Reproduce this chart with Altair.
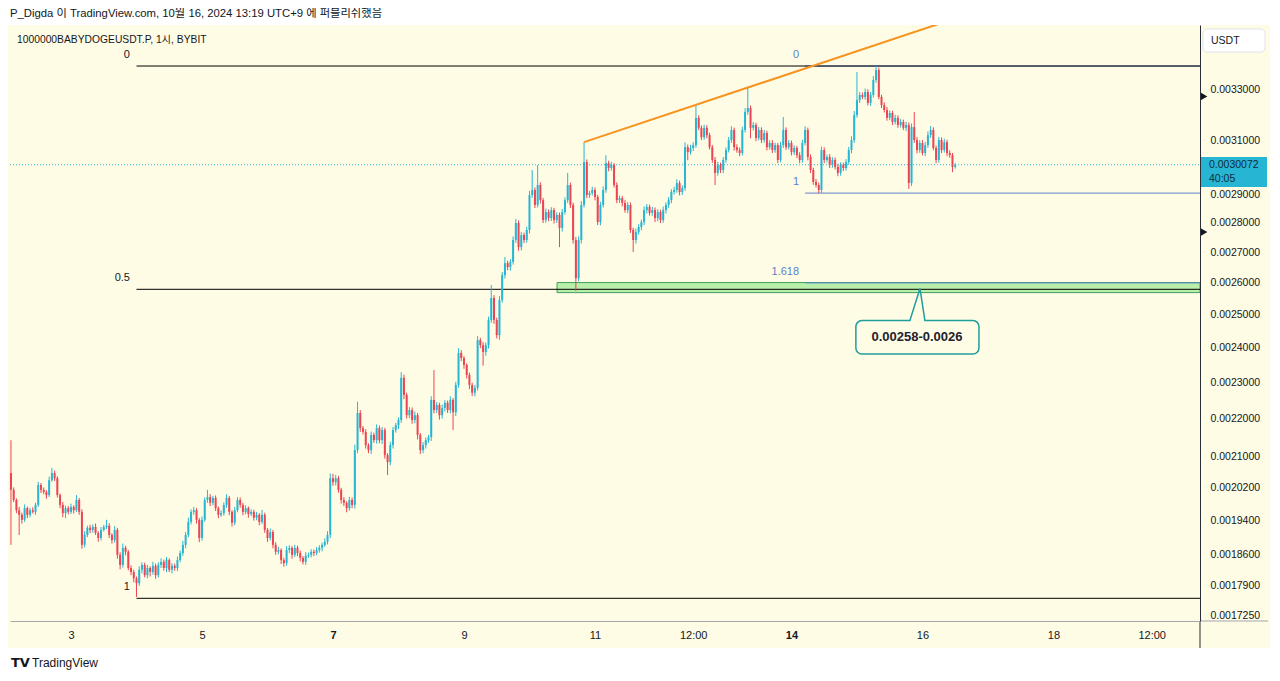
import altair as alt
import pandas as pd

# ---------------- data (prices in units of 1e-6 USDT) ----------------
UNIT = 1e-6
FIRST_HOUR = -22          # first candle: Oct 2 02:00 (hours relative to Oct 3 00:00)
FIRST_OPEN = 2057

CLOSE = [
    2015, 1990, 1965, 1954, 1942, 1970, 1954, 1965, 1961, 1978,
    2027, 2015, 2010, 2002, 2039, 2057, 2044, 2002, 1978, 1958,
    1970, 1961, 1973, 1965, 1990, 1961, 1883, 1906, 1923, 1918,
    1925, 1911, 1899, 1918, 1925, 1928, 1906, 1894, 1918, 1860,
    1837, 1876, 1867, 1830, 1821, 1807, 1796, 1826, 1837, 1814,
    1830, 1821, 1835, 1814, 1837, 1844, 1830, 1848, 1826, 1835,
    1830, 1848, 1864, 1883, 1906, 1937, 1961, 1965, 1942, 1899,
    1942, 1990, 1997, 1983, 1995, 1970, 1954, 1958, 1978, 1995,
    1961, 1935, 1965, 1990, 1978, 1961, 1970, 1956, 1961, 1947,
    1954, 1937, 1954, 1918, 1899, 1913, 1883, 1867, 1871, 1848,
    1841, 1871, 1876, 1860, 1876, 1864, 1853, 1844, 1858, 1860,
    1867, 1864, 1871, 1876, 1883, 1890, 1906, 2044, 2034, 2044,
    2015, 1990, 1983, 1970, 1990, 1978, 2116, 2215, 2174, 2164,
    2129, 2116, 2156, 2142, 2174, 2142, 2169, 2103, 2085, 2129,
    2169, 2182, 2196, 2313, 2265, 2209, 2223, 2196, 2209, 2156,
    2116, 2129, 2142, 2150, 2251, 2223, 2237, 2209, 2229, 2243,
    2223, 2251, 2217, 2293, 2385, 2370, 2350, 2321, 2293, 2271,
    2285, 2423, 2408, 2388, 2408, 2484, 2552, 2484, 2438, 2546,
    2625, 2664, 2651, 2668, 2741, 2799, 2717, 2758, 2741, 2775,
    2897, 2915, 2862, 2933, 2879, 2809, 2837, 2816, 2844, 2809,
    2827, 2782, 2837, 2879, 2933, 2862, 2741, 2615, 2741, 2862,
    3017, 2897, 2904, 2915, 2890, 2802, 2862, 2915, 3013, 2995,
    3006, 2933, 2879, 2886, 2869, 2844, 2862, 2775, 2741, 2768,
    2785, 2802, 2844, 2855, 2834, 2844, 2816, 2837, 2809, 2844,
    2862, 2879, 2908, 2915, 2940, 2908, 2922, 3073, 3054, 3070,
    3081, 3186, 3147, 3111, 3147, 3119, 3073, 3025, 2977, 3006,
    2988, 3025, 3062, 3100, 3139, 3073, 3062, 3051, 3139, 3209,
    3225, 3147, 3158, 3108, 3139, 3100, 3127, 3073, 3089, 3062,
    3081, 3025, 3081, 3139, 3073, 3089, 3054, 3070, 3043, 3025,
    3089, 3139, 3036, 2988, 2944, 2933, 2915, 3062, 3025, 3036,
    3006, 3025, 2999, 2977, 3006, 2995, 3017, 3062, 3100, 3197,
    3257, 3277, 3269, 3289, 3245, 3277, 3338, 3379, 3269, 3237,
    3217, 3186, 3205, 3170, 3186, 3158, 3170, 3147, 3158, 2940,
    3150, 3100, 3062, 3089, 3051, 3081, 3119, 3139, 3070, 3025,
    3100, 3062, 3092, 3051, 3043, 2999, 3007,
]

UPPER_WICK = [
    85, 6, 4, 8, 5, 9, 4, 6, 7, 5,
    8, 5, 6, 4, 9, 13, 6, 5, 4, 7,
    6, 5, 8, 4, 12, 5, 6, 9, 5, 7,
    6, 8, 4, 7, 5, 14, 6, 4, 9, 5,
    6, 10, 5, 4, 6, 5, 4, 8, 6, 5,
    7, 4, 9, 5, 6, 8, 5, 7, 4, 6,
    5, 8, 6, 9, 7, 10, 6, 8, 5, 4,
    8, 6, 18, 7, 5, 6, 4, 7, 6, 9,
    5, 4, 8, 7, 6, 5, 7, 4, 6, 5,
    7, 4, 12, 5, 4, 8, 5, 6, 7, 4,
    5, 9, 6, 4, 7, 5, 6, 4, 8, 5,
    6, 5, 7, 6, 5, 8, 9, 12, 11, 8,
    6, 5, 7, 4, 8, 6, 14, 31, 8, 6,
    7, 5, 9, 6, 10, 7, 8, 6, 5, 9,
    8, 6, 7, 16, 9, 6, 8, 7, 10, 6,
    5, 8, 7, 6, 10, 84, 8, 6, 9, 7,
    6, 10, 5, 9, 14, 8, 6, 5, 7, 6,
    8, 12, 7, 9, 8, 10, 41, 9, 7, 12,
    10, 20, 8, 9, 12, 14, 9, 10, 8, 11,
    15, 73, 9, 73, 10, 8, 12, 9, 10, 8,
    9, 8, 11, 10, 44, 9, 8, 10, 12, 14,
    75, 10, 8, 12, 9, 8, 11, 13, 30, 9,
    12, 8, 10, 9, 8, 11, 10, 9, 8, 12,
    10, 9, 13, 10, 8, 11, 9, 10, 8, 12,
    9, 11, 10, 12, 14, 9, 10, 18, 10, 12,
    11, 51, 10, 9, 12, 10, 9, 8, 11, 12,
    9, 11, 10, 12, 14, 9, 11, 10, 12, 15,
    85, 10, 12, 9, 11, 10, 12, 9, 10, 11,
    9, 8, 12, 50, 10, 11, 9, 10, 8, 11,
    12, 14, 9, 10, 8, 11, 9, 13, 10, 9,
    11, 10, 9, 12, 10, 9, 11, 12, 14, 16,
    114, 12, 10, 14, 11, 12, 16, 17, 10, 9,
    11, 12, 10, 9, 12, 10, 11, 9, 12, 10,
    14, 59, 12, 10, 11, 12, 14, 15, 10, 9,
    12, 10, 13, 9, 10, 8, 6,
]

LOWER_WICK = [
    132, 5, 7, 48, 9, 5, 8, 6, 4, 7,
    5, 8, 6, 9, 5, 4, 7, 6, 8, 10,
    12, 6, 5, 8, 4, 7, 9, 6, 5, 8,
    7, 5, 9, 6, 4, 5, 7, 8, 6, 9,
    10, 6, 8, 5, 7, 9, 30, 6, 8, 5,
    7, 10, 6, 8, 5, 7, 6, 9, 5, 8,
    6, 7, 5, 6, 8, 5, 6, 7, 9, 10,
    6, 5, 7, 8, 6, 7, 8, 5, 6, 7,
    8, 9, 6, 5, 7, 8, 6, 9, 5, 7,
    6, 8, 5, 7, 9, 6, 8, 7, 6, 9,
    8, 6, 7, 9, 5, 7, 8, 6, 7, 5,
    6, 7, 5, 6, 8, 5, 6, 7, 9, 8,
    7, 9, 8, 10, 6, 8, 9, 8, 10, 7,
    9, 8, 10, 7, 9, 8, 10, 9, 33, 8,
    9, 7, 10, 8, 12, 9, 8, 10, 9, 12,
    10, 8, 9, 7, 10, 9, 8, 12, 9, 10,
    8, 9, 48, 10, 8, 9, 11, 10, 12, 9,
    10, 8, 9, 40, 11, 10, 9, 12, 10, 14,
    9, 11, 10, 12, 9, 10, 12, 11, 10, 9,
    12, 10, 11, 9, 12, 10, 9, 11, 10, 12,
    10, 65, 12, 9, 10, 11, 12, 41, 10, 12,
    9, 11, 10, 9, 12, 10, 11, 9, 10, 12,
    10, 9, 11, 10, 12, 9, 11, 10, 40, 12,
    9, 11, 10, 12, 9, 10, 14, 11, 10, 9,
    12, 10, 11, 9, 10, 12, 11, 10, 30, 9,
    12, 10, 9, 11, 10, 12, 9, 11, 44, 10,
    11, 12, 10, 9, 11, 13, 10, 12, 9, 10,
    11, 40, 10, 12, 9, 11, 10, 12, 9, 11,
    10, 12, 9, 11, 10, 9, 12, 10, 11, 12,
    10, 9, 12, 11, 10, 9, 11, 10, 12, 9,
    11, 10, 9, 12, 10, 11, 9, 10, 12, 11,
    10, 12, 9, 11, 10, 12, 10, 11, 9, 12,
    10, 11, 9, 12, 10, 11, 10, 9, 12, 21,
    10, 11, 12, 10, 9, 12, 10, 11, 9, 12,
    10, 11, 9, 12, 10, 19, 6,
]

X_TICK_HOURS = [0, 48, 96, 144, 192, 228, 264, 312, 360, 396]
X_TICK_LABELS = ["3", "5", "7", "9", "11", "12:00", "14", "16", "18", "12:00"]
X_BOLD_HOURS = [96, 264]
Y_TICKS = [0.0017250, 0.0017900, 0.0018600, 0.0019400, 0.0020200, 0.0021000,
           0.0022000, 0.0023000, 0.0024000, 0.0025000, 0.0026000, 0.0027000,
           0.0028000, 0.0029000, 0.0031000, 0.0033000]

FIB_START = 24
FIB_LEVELS = [0.003396, 0.0025795, 0.001763]
FIB_LABELS = ["0", "0.5", "1"]
FIB_LABEL_H = 21.6
FIB2_START = 269
FIB2_LEVELS = [0.003396, 0.002904, 0.0026]
FIB2_LABELS = ["0", "1", "1.618"]
FIB2_LABEL_H = 266.8
ZONE_START = 178.1
ZONE_LOW, ZONE_HIGH = 0.002569, 0.002601
TREND_H = [188, 320]
TREND_P = [0.003092, 0.003585]
LAST_PRICE = 0.0030072
COUNTDOWN = "40:05"
ALERT_PRICES = [0.003271, 0.002768]
CALLOUT_TEXT = "0.00258-0.0026"
CALLOUT_BOX = dict(h1=287.6, h2=332.7, p1=0.002482, p2=0.002382)
CALLOUT_TEXT_POS = dict(h=310.0, p=0.002432)
POINTER_H = [307.4, 311.1, 312.9]
POINTER_P = [0.002482, 0.002582, 0.002482]

HEADER = "P_Digda 이 TradingView.com, 10월 16, 2024 13:19 UTC+9 에 퍼블리쉬했음"
SYMBOL = "1000000BABYDOGEUSDT.P, 1시, BYBIT"

X_DOMAIN = [-22.35, 413.7]
Y_DOMAIN = [0.0017144, 0.003572]

# ---------------- styling ----------------
BG = "#fffce6"
UP = "#26b6d3"
DOWN = "#ec4452"
TEXT = "#131722"
FIB2_COLOR = "#5b82c9"
TEAL = "#1f9e9c"
FONT = "Liberation Sans, Noto Sans CJK KR, sans-serif"

# ---------------- build tables ----------------
n = min(len(CLOSE), len(UPPER_WICK), len(LOWER_WICK))
rows = []
prev = FIRST_OPEN
for i in range(n):
    o, c = prev, CLOSE[i]
    rows.append(dict(h=FIRST_HOUR + i, o=o * UNIT, c=c * UNIT,
                     hi=(max(o, c) + UPPER_WICK[i]) * UNIT,
                     lo=(min(o, c) - LOWER_WICK[i]) * UNIT))
    prev = c
candles = pd.DataFrame(rows)

fib = pd.DataFrame({"h": [FIB_START] * 3, "h2": [X_DOMAIN[1]] * 3, "p": FIB_LEVELS,
                    "t": FIB_LABELS, "lh": [FIB_LABEL_H] * 3})
fib2 = pd.DataFrame({"h": [FIB2_START] * 3, "h2": [X_DOMAIN[1]] * 3, "p": FIB2_LEVELS,
                     "t": FIB2_LABELS, "lh": [FIB2_LABEL_H] * 3})
zone = pd.DataFrame({"h": [ZONE_START], "h2": [X_DOMAIN[1]], "p": [ZONE_LOW], "p2": [ZONE_HIGH]})
trend = pd.DataFrame({"h": TREND_H, "p": TREND_P})
last = pd.DataFrame({"h": [X_DOMAIN[0]], "h2": [X_DOMAIN[1]], "p": [LAST_PRICE]})
alerts = pd.DataFrame({"p": ALERT_PRICES})
cbox = pd.DataFrame([CALLOUT_BOX])
ctext = pd.DataFrame([dict(CALLOUT_TEXT_POS, t=CALLOUT_TEXT)])
pointer = pd.DataFrame({"h": POINTER_H, "p": POINTER_P, "k": [0, 1, 2]})
cover = pd.DataFrame({"h": [POINTER_H[0] + 0.25], "h2": [POINTER_H[2] - 0.25], "p": [POINTER_P[0]]})

xs = alt.Scale(domain=X_DOMAIN, nice=False, zero=False, padding=0)
ys = alt.Scale(type="log", domain=Y_DOMAIN, nice=False, padding=0)

expr = ""
for hv, lb in zip(X_TICK_HOURS[:-1], X_TICK_LABELS[:-1]):
    expr += f"datum.value=={hv}?'{lb}':"
expr += f"'{X_TICK_LABELS[-1]}'"
bold_test = " || ".join(f"datum.value=={b}" for b in X_BOLD_HOURS)

x_axis = alt.Axis(values=X_TICK_HOURS, labelExpr=expr, title=None, grid=False,
                  ticks=False, tickSize=0, domainColor="#a3a6af", domainWidth=1,
                  labelColor=TEXT, labelFontSize=11, labelPadding=8, labelFont=FONT,
                  labelFlush=False, labelOverlap=False, zindex=2,
                  labelFontWeight={"condition": {"test": bold_test, "value": "bold"},
                                   "value": "normal"})
y_axis = alt.Axis(orient="right", values=Y_TICKS, format=".7f", title=None, grid=False,
                  ticks=False, tickSize=0, domainColor="#2a2e39", domainWidth=1,
                  labelColor=TEXT, labelFontSize=10.5, labelPadding=10, labelFont=FONT,
                  labelFlush=False, labelOverlap=False, zindex=2)


def X(f):
    return alt.X(f, type="quantitative", scale=xs, axis=x_axis)


def Y(f):
    return alt.Y(f, type="quantitative", scale=ys, axis=y_axis)


one = alt.Data(values=[{"a": 1}])

bg = alt.Chart(one).mark_rect(color=BG).encode(
    x=alt.value(-2), x2=alt.value(1260), y=alt.value(0), y2=alt.value(623))

header = alt.Chart(alt.Data(values=[{"t": HEADER}])).mark_text(
    align="left", baseline="middle", fontSize=11.3, color=TEXT, font=FONT).encode(
    x=alt.value(0), y=alt.value(-11), text="t:N")
symbol = alt.Chart(alt.Data(values=[{"t": SYMBOL}])).mark_text(
    align="left", baseline="middle", fontSize=10.3, color=TEXT, font=FONT).encode(
    x=alt.value(7), y=alt.value(15), text="t:N")

zone_l = alt.Chart(zone).mark_rect(fill="#b8f0ab", stroke="#3c9f5a", strokeWidth=1).encode(
    x=X("h"), x2="h2", y=Y("p"), y2="p2")

fib2_lines = alt.Chart(fib2).mark_rule(color=FIB2_COLOR, strokeWidth=1).encode(
    x=X("h"), x2="h2", y=Y("p"))
fib2_text = alt.Chart(fib2).mark_text(align="right", baseline="middle", dy=-11,
                                      fontSize=11, color=FIB2_COLOR, font=FONT).encode(
    x=X("lh"), y=Y("p"), text="t:N")

fib_lines = alt.Chart(fib).mark_rule(color="#000000", strokeWidth=1).encode(
    x=X("h"), x2="h2", y=Y("p"))
fib_text = alt.Chart(fib).mark_text(align="right", baseline="middle", dy=-11,
                                    fontSize=11, color=TEXT, font=FONT).encode(
    x=X("lh"), y=Y("p"), text="t:N")

last_line = alt.Chart(last).mark_rule(color=UP, strokeWidth=1, strokeDash=[1, 2]).encode(
    x=X("h"), x2="h2", y=Y("p"))

ccolor = alt.condition("datum.c >= datum.o", alt.value(UP), alt.value(DOWN))
wicks = alt.Chart(candles).mark_rule(strokeWidth=1).encode(
    x=X("h"), y=Y("lo"), y2="hi", color=ccolor)
bodies = alt.Chart(candles).mark_bar(size=2).encode(
    x=X("h"), y=Y("o"), y2="c", color=ccolor)

trend_l = alt.Chart(trend).mark_line(color="#f7931e", strokeWidth=2, clip=True).encode(
    x=X("h"), y=Y("p"))

box = alt.Chart(cbox).mark_rect(fill=BG, stroke=TEAL, strokeWidth=1.5, cornerRadius=6).encode(
    x=X("h1"), x2="h2", y=Y("p1"), y2="p2")
cover_l = alt.Chart(cover).mark_rule(color=BG, strokeWidth=3).encode(
    x=X("h"), x2="h2", y=Y("p"))
pointer_l = alt.Chart(pointer).mark_line(color=TEAL, strokeWidth=1.5).encode(
    x=X("h"), y=Y("p"), order="k:Q")
box_text = alt.Chart(ctext).mark_text(align="center", baseline="middle", fontSize=13,
                                      fontWeight="bold", color="#1e222d", font=FONT).encode(
    x=X("h"), y=Y("p"), text="t:N")

# price-scale chrome
axis_ext = alt.Chart(one).mark_rule(color="#2a2e39", strokeWidth=1).encode(
    x=alt.value(1190), y=alt.value(596), y2=alt.value(623))
axis_ext2 = alt.Chart(one).mark_rule(color="#a3a6af", strokeWidth=1).encode(
    x=alt.value(1190), x2=alt.value(1258), y=alt.value(596))
usdt_box = alt.Chart(one).mark_rect(fill="#ffffff", stroke="#e0e3eb", cornerRadius=4).encode(
    x=alt.value(1193), x2=alt.value(1255), y=alt.value(4), y2=alt.value(27))
usdt_text = alt.Chart(alt.Data(values=[{"t": "USDT"}])).mark_text(
    align="left", baseline="middle", fontSize=10.5, color=TEXT, font=FONT).encode(
    x=alt.value(1201), y=alt.value(16), text="t:N")
price_box = alt.Chart(one).mark_rect(fill=UP).encode(
    x=alt.value(1191), x2=alt.value(1257), y=alt.value(132), y2=alt.value(162))
price_text = alt.Chart(alt.Data(values=[{"t": f"{LAST_PRICE:.7f}", "y": 140},
                                        {"t": COUNTDOWN, "y": 154}])).mark_text(
    align="left", baseline="middle", fontSize=10.5, color="#0f2a3d", font=FONT).encode(
    x=alt.value(1199), y=alt.Y("y:Q", scale=None), text="t:N")
tri = alt.Chart(alerts).mark_point(
    shape="triangle-right", filled=True, color="#131722", size=60, opacity=1).encode(
    x=alt.value(1194), y=Y("p"))

footer_logo = alt.Chart(alt.Data(values=[{"t": "TV"}])).mark_text(
    align="left", baseline="middle", fontSize=13, fontWeight="bold", color=TEXT,
    font="DejaVu Sans").encode(x=alt.value(1), y=alt.value(638), text="t:N")
footer = alt.Chart(alt.Data(values=[{"t": "TradingView"}])).mark_text(
    align="left", baseline="middle", fontSize=12, color=TEXT, font=FONT).encode(
    x=alt.value(22), y=alt.value(638), text="t:N")

chart = alt.layer(
    bg, header, symbol, zone_l, fib2_lines, fib_lines, fib2_text, fib_text, last_line,
    wicks, bodies, trend_l, box, cover_l, pointer_l, box_text,
    axis_ext, axis_ext2, usdt_box, usdt_text, price_box, price_text, tri,
    footer_logo, footer,
).properties(
    width=1190, height=596,
    padding={"left": 2, "top": 17, "right": 72, "bottom": 51},
    autosize=alt.AutoSizeParams(type="none"),
).configure(font="Liberation Sans", background="#ffffff").configure_view(strokeWidth=0)

chart.save("out.html", embed_options={"renderer": "svg", "actions": False})
